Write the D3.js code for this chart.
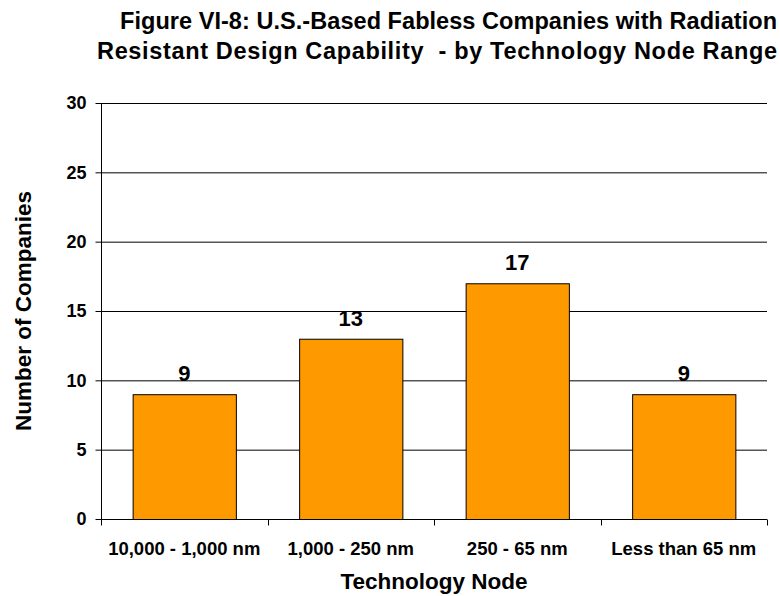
<!DOCTYPE html>
<html><head><meta charset="utf-8">
<script src="https://cdn.jsdelivr.net/npm/d3@7"></script>
<style>
body{margin:0;background:#fff;}
text{font-family:"Liberation Sans",Arial,sans-serif;font-weight:bold;fill:#000;white-space:pre;}
</style></head>
<body>
<svg id="c" width="780" height="596"></svg>
<script>
const categories = ["10,000 - 1,000 nm","1,000 - 250 nm","250 - 65 nm","Less than 65 nm"];
const values = [9,13,17,9];
const yTicks = [0,5,10,15,20,25,30];
const titleLines = ["Figure VI-8: U.S.-Based Fabless Companies with Radiation","Resistant Design Capability  - by Technology Node Range"];

const svg = d3.select("#c");
const m = {l:101, r:767, t:103, b:519};
const x = d3.scaleBand().domain(categories).range([m.l, m.r]).paddingInner(0.38).paddingOuter(0.19);
const xb = d3.scaleBand().domain(categories).range([m.l, m.r]);
const y = d3.scaleLinear().domain([0,30]).range([m.b, m.t]);

// gridlines
svg.append("g").selectAll("line").data(yTicks.filter(d=>d>0)).join("line")
  .attr("x1", m.l).attr("x2", m.r).attr("y1", d=>y(d)+0.5).attr("y2", d=>y(d)+0.5)
  .attr("stroke","#000").attr("stroke-width",1);

// bars
svg.append("g").selectAll("rect").data(values).join("rect")
  .attr("x",(d,i)=>x(categories[i])+0.5).attr("y",d=>y(d)+0.5)
  .attr("width",x.bandwidth()).attr("height",d=>y(0)-y(d))
  .attr("fill","#FF9900").attr("stroke","#000").attr("stroke-width",1);

// y axis
const ya = svg.append("g").attr("transform",`translate(${m.l+0.5},0)`)
  .call(d3.axisLeft(y).tickValues(yTicks).tickSize(6).tickPadding(9));
ya.attr("font-size",null).attr("font-family",null);
ya.select(".domain").attr("d",`M0,${m.t}V${m.b+6}`).attr("stroke","#000");
ya.selectAll(".tick line").attr("stroke","#000");
ya.selectAll("text").style("font-size","18px").attr("fill","#000");

// x axis
const xa = svg.append("g").attr("transform",`translate(0,${m.b+0.5})`);
xa.append("line").attr("x1",m.l).attr("x2",m.r).attr("stroke","#000");
const bounds = categories.map(c=>xb(c)).concat([m.r]);
xa.selectAll(".tk").data(bounds).join("line").attr("class","tk")
  .attr("x1",d=>Math.round(d)+0.5).attr("x2",d=>Math.round(d)+0.5).attr("y1",0).attr("y2",6).attr("stroke","#000");
xa.selectAll("text").data(categories).join("text")
  .attr("x",d=>xb(d)+xb.bandwidth()/2).attr("y",35.5)
  .attr("text-anchor","middle").style("font-size","18.5px").text(d=>d);

// value labels
svg.append("g").selectAll("text").data(values).join("text")
  .attr("x",(d,i)=>x(categories[i])+x.bandwidth()/2).attr("y",d=>y(d)-13)
  .attr("text-anchor","middle").style("font-size","22px").text(d=>d);

// titles
const tPos = [{x:120,w:657},{x:97,w:680}];
svg.append("g").selectAll("text").data(titleLines).join("text")
  .attr("x",(d,i)=>tPos[i].x).attr("y",(d,i)=>29+i*30)
  .attr("textLength",(d,i)=>tPos[i].w).attr("lengthAdjust","spacing")
  .style("font-size","23.5px").text(d=>d);

svg.append("text").attr("x",434).attr("y",589).attr("text-anchor","middle")
  .style("font-size","22.5px").text("Technology Node");
svg.append("text").attr("transform","translate(31,311) rotate(-90)").attr("text-anchor","middle")
  .style("font-size","22.5px").text("Number of Companies");
</script>
</body></html>
